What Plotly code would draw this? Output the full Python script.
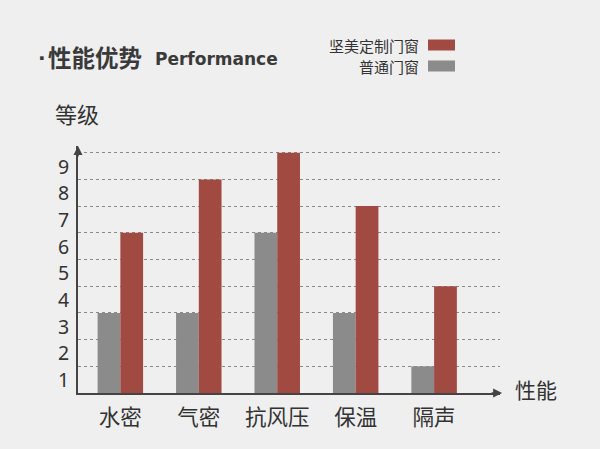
import plotly.graph_objects as go

categories = ["水密", "气密", "抗风压", "保温", "隔声"]
custom_values = [6, 8, 9, 7, 4]
standard_values = [3, 3, 6, 3, 1]
series_names = ["坚美定制门窗", "普通门窗"]
y_tick_values = [1, 2, 3, 4, 5, 6, 7, 8, 9]

FONT = "Noto Sans CJK SC"
RED = "#a04a42"
GRAY = "#8c8b8b"
BG = "#efefef"
TXT = "#333333"

L, T, B = 78, 146, 56
PW, PH = 600 - L - 100, 449 - T - B


def px(x):
    return (x - L) / PW


def py(y):
    return (449 - B - y) / PH


fig = go.Figure()
fig.add_trace(go.Bar(x=categories, y=standard_values, name=series_names[1],
                     marker=dict(color=GRAY, line=dict(width=0)), showlegend=False))
fig.add_trace(go.Bar(x=categories, y=custom_values, name=series_names[0],
                     marker=dict(color=RED, line=dict(width=0)), showlegend=False))

fig.update_layout(
    width=600, height=449,
    margin=dict(l=L, r=100, t=T, b=B),
    paper_bgcolor=BG, plot_bgcolor=BG,
    barmode="group", bargap=0.42, bargroupgap=0,
    font=dict(family=FONT, color=TXT),
)
fig.update_xaxes(range=[-0.54, 4.84], showline=True, linecolor="#444", linewidth=1.5,
                 showgrid=False, ticks="", tickfont=dict(size=21.5, color=TXT, family=FONT),
                 ticklabelstandoff=4)
fig.update_yaxes(range=[0, 9.25], showline=True, linecolor="#444", linewidth=1.5,
                 tickvals=y_tick_values, showticklabels=False, ticks="",
                 showgrid=True, gridcolor="#8a8a8a", gridwidth=1, griddash="dot",
                 zeroline=False)

# axis arrows
fig.add_annotation(x=0, y=1, xref="paper", yref="paper", ax=0, ay=12,
                   text="", showarrow=True, arrowhead=2, arrowsize=1.2, arrowwidth=1.5, arrowcolor="#444")
fig.add_annotation(x=1.005, y=0, xref="paper", yref="paper", ax=-12, ay=0,
                   text="", showarrow=True, arrowhead=2, arrowsize=1.2, arrowwidth=1.5, arrowcolor="#444")

# y tick labels between gridlines
for v in y_tick_values:
    fig.add_annotation(x=px(63), y=v - 0.5, xref="paper", yref="y", xanchor="center",
                       text=str(v), showarrow=False, font=dict(size=19.5, color=TXT, family="Noto Sans"))

# axis titles
fig.add_annotation(x=px(77), y=py(113), xref="paper", yref="paper",
                   text="等级", showarrow=False, xanchor="center", yanchor="middle",
                   font=dict(size=22, color=TXT, family=FONT))
fig.add_annotation(x=px(536), y=py(389), xref="paper", yref="paper",
                   text="性能", showarrow=False, xanchor="center", yanchor="middle",
                   font=dict(size=21, color=TXT, family=FONT))

# title
fig.add_annotation(x=px(36), y=py(58), xref="paper", yref="paper", text="<b>·</b>", showarrow=False,
                   xanchor="left", yanchor="middle", font=dict(size=20, color="#3a3a3a", family="DejaVu Sans"))
fig.add_annotation(x=px(46), y=py(57), xref="paper", yref="paper", text="<b>性能优势</b>", showarrow=False,
                   xanchor="left", yanchor="middle", font=dict(size=23.5, color="#3a3a3a", family=FONT))
fig.add_annotation(x=px(153), y=py(59), xref="paper", yref="paper", text="<b>Performance</b>", showarrow=False,
                   xanchor="left", yanchor="middle", font=dict(size=17, color="#3a3a3a", family="DejaVu Sans"))

# legend (manual)
leg = [(series_names[0], RED, 45), (series_names[1], GRAY, 66)]
for name, col, yp in leg:
    fig.add_annotation(x=px(421), y=py(yp), xref="paper", yref="paper",
                       text=name, showarrow=False, xanchor="right", yanchor="middle",
                       font=dict(size=15, color=TXT, family=FONT))
    fig.add_shape(type="rect", xref="paper", yref="paper",
                  x0=px(428), x1=px(455), y0=py(yp + 5.5), y1=py(yp - 5.5),
                  fillcolor=col, line=dict(width=0))

fig.write_html("out.html")
